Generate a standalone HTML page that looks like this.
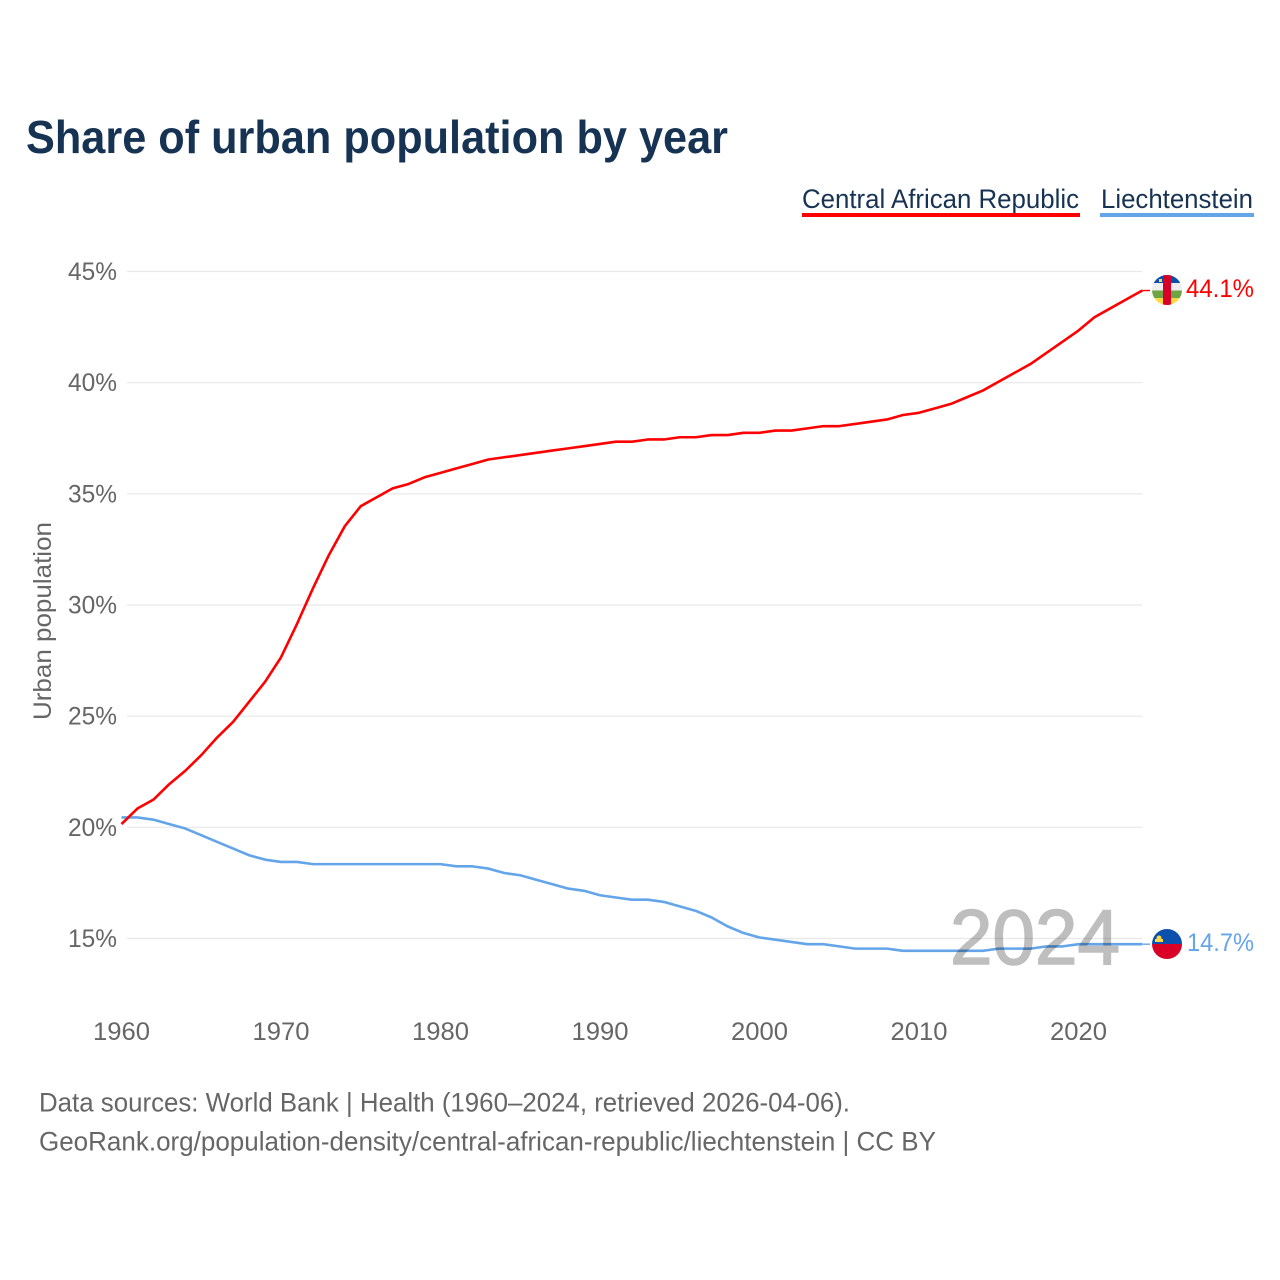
<!DOCTYPE html>
<html lang="en">
<head>
<meta charset="utf-8">
<title>Share of urban population by year</title>
<style>
html,body{margin:0;padding:0;background:#fff}
svg{display:block}
text{font-family:"Liberation Sans",sans-serif}
</style>
</head>
<body>
<svg id="chart" xmlns="http://www.w3.org/2000/svg" width="1280" height="1280" viewBox="0 0 1280 1280">
  <rect width="1280" height="1280" fill="#fff"/>
  <text x="26" y="153" font-size="46" font-weight="700" fill="#173353" textLength="702" lengthAdjust="spacingAndGlyphs">Share of urban population by year</text>

  <g>
    <text x="802" y="208" font-size="27" fill="#173353" textLength="277" lengthAdjust="spacingAndGlyphs">Central African Republic</text>
    <rect x="802" y="213" width="278" height="4" fill="#ff0000"/>
  </g>
  <g>
    <text x="1101" y="208" font-size="27" fill="#173353" textLength="152" lengthAdjust="spacingAndGlyphs">Liechtenstein</text>
    <rect x="1100" y="213" width="154" height="4" fill="#64a5ea"/>
  </g>

  <g id="grid"></g>
  <g id="yticks"></g>
  <g id="xticks"></g>
  <text transform="translate(51,720) rotate(-90)" font-size="25" fill="#666" textLength="198" lengthAdjust="spacingAndGlyphs">Urban population</text>

  <g id="series"></g>

  <text id="year-label" x="950" y="964" font-size="78" fill="#000" stroke="#000" stroke-width="1.6" opacity="0.25" textLength="170" lengthAdjust="spacingAndGlyphs">2024</text>

  <defs>
    <clipPath id="clip-caf"><circle id="clip-caf-c" cx="1167" cy="290" r="15"/></clipPath>
    <clipPath id="clip-lie"><circle id="clip-lie-c" cx="1167" cy="944" r="15"/></clipPath>
  </defs>
  <g clip-path="url(#clip-caf)">
    <rect x="1152" y="275" width="30" height="8" fill="#0b50ac"/>
    <rect x="1152" y="283" width="30" height="7.500" fill="#eeeeee"/>
    <rect x="1152" y="290.500" width="30" height="7.500" fill="#6da544"/>
    <rect x="1152" y="298" width="30" height="7" fill="#ffda44"/>
    <rect x="1163" y="275" width="8" height="30" fill="#d80027"/>
    <rect x="1159" y="279" width="3" height="3" fill="#ffda44"/>
  </g>
  <g clip-path="url(#clip-lie)">
    <rect x="1152" y="929" width="30" height="15" fill="#0b50ac"/>
    <rect x="1152" y="944" width="30" height="15" fill="#d80027"/>
    <rect x="1155" y="939" width="8" height="3" fill="#ffda44"/>
    <circle cx="1159" cy="938" r="2.500" fill="#ffda44"/>
  </g>
  <text id="end-caf" x="1186" y="297" font-size="25" fill="#ff0000" textLength="68" lengthAdjust="spacingAndGlyphs"></text>
  <text id="end-lie" x="1187" y="951" font-size="25" fill="#64a5ea" textLength="67" lengthAdjust="spacingAndGlyphs"></text>

  <text x="39" y="1111.500" font-size="27" fill="#666" textLength="811" lengthAdjust="spacingAndGlyphs">Data sources: World Bank | Health (1960–2024, retrieved 2026-04-06).</text>
  <text x="39" y="1150.500" font-size="27" fill="#666" textLength="897" lengthAdjust="spacingAndGlyphs">GeoRank.org/population-density/central-african-republic/liechtenstein | CC BY</text>
</svg>
<script>
const startYear = 1960;
const centralAfricanRepublic = [20.1,20.8,21.2,21.9,22.5,23.2,24.0,24.7,25.6,26.5,27.6,29.1,30.7,32.2,33.5,34.4,34.8,35.2,35.4,35.7,35.9,36.1,36.3,36.5,36.6,36.7,36.8,36.9,37.0,37.1,37.2,37.3,37.3,37.4,37.4,37.5,37.5,37.6,37.6,37.7,37.7,37.8,37.8,37.9,38.0,38.0,38.1,38.2,38.3,38.5,38.6,38.8,39.0,39.3,39.6,40.0,40.4,40.8,41.3,41.8,42.3,42.9,43.3,43.7,44.1];
const liechtenstein = [20.4,20.4,20.3,20.1,19.9,19.6,19.3,19.0,18.7,18.5,18.4,18.4,18.3,18.3,18.3,18.3,18.3,18.3,18.3,18.3,18.3,18.2,18.2,18.1,17.9,17.8,17.6,17.4,17.2,17.1,16.9,16.8,16.7,16.7,16.6,16.4,16.2,15.9,15.5,15.2,15.0,14.9,14.8,14.7,14.7,14.6,14.5,14.5,14.5,14.4,14.4,14.4,14.4,14.4,14.4,14.5,14.5,14.5,14.6,14.6,14.7,14.7,14.7,14.7,14.7];
const yTicks = [15,20,25,30,35,40,45];
const xTicks = [1960,1970,1980,1990,2000,2010,2020];

const NS = 'http://www.w3.org/2000/svg';
const xOf = year => 121.5 + (year - 1960) * 15.95;
const yOf = pct => 938.5 - (pct - 15) * 22.233;
const seriesYOf = pct => yOf(pct) - 1;

function svgEl(tag, parentId) {
  const el = document.createElementNS(NS, tag);
  document.getElementById(parentId).appendChild(el);
  return el;
}

yTicks.forEach(function (t) {
  const line = svgEl('line', 'grid');
  
  
  line.setAttribute('x1', 127);
  line.setAttribute('x2', xOf(2024));
  line.setAttribute('y1', yOf(t));
  line.setAttribute('y2', yOf(t));
  line.setAttribute('stroke', '#e8e8e8');
  line.setAttribute('stroke-width', 1.2);

  const label = svgEl('text', 'yticks');
  
  
  label.setAttribute('x', 68);
  label.setAttribute('y', yOf(t) + 8.5);
  label.setAttribute('font-size', 25);
  label.setAttribute('fill', '#666');
  label.setAttribute('textLength', 49);
  label.setAttribute('lengthAdjust', 'spacingAndGlyphs');
  label.textContent = t + '%';
});

xTicks.forEach(function (t) {
  const label = svgEl('text', 'xticks');
  
  
  label.setAttribute('x', xOf(t) - 28.5);
  label.setAttribute('y', 1040);
  label.setAttribute('font-size', 25);
  label.setAttribute('fill', '#666');
  label.setAttribute('textLength', 57);
  label.setAttribute('lengthAdjust', 'spacingAndGlyphs');
  label.textContent = t;
});

function drawSeries(values, color, name) {
  const pts = values.map(function (v, i) {
    return xOf(startYear + i).toFixed(2) + ',' + seriesYOf(v).toFixed(2);
  }).join(' ');
  const path = svgEl('polyline', 'series');
  
  
  path.setAttribute('points', pts);
  path.setAttribute('fill', 'none');
  path.setAttribute('stroke', color);
  path.setAttribute('stroke-width', 2.6);
  path.setAttribute('stroke-linejoin', 'round');

  const last = values[values.length - 1];
  const lead = svgEl('line', 'series');
  
  
  lead.setAttribute('x1', xOf(startYear + values.length - 1));
  lead.setAttribute('x2', 1150);
  lead.setAttribute('y1', seriesYOf(last));
  lead.setAttribute('y2', seriesYOf(last));
  lead.setAttribute('stroke', color);
  lead.setAttribute('stroke-width', 1.4);
}

drawSeries(liechtenstein, '#64a5ea', 'liechtenstein');
drawSeries(centralAfricanRepublic, '#ff0000', 'central-african-republic');

document.getElementById('end-caf').textContent = centralAfricanRepublic[centralAfricanRepublic.length - 1].toFixed(1) + '%';
document.getElementById('end-lie').textContent = liechtenstein[liechtenstein.length - 1].toFixed(1) + '%';
</script>
</body>
</html>
